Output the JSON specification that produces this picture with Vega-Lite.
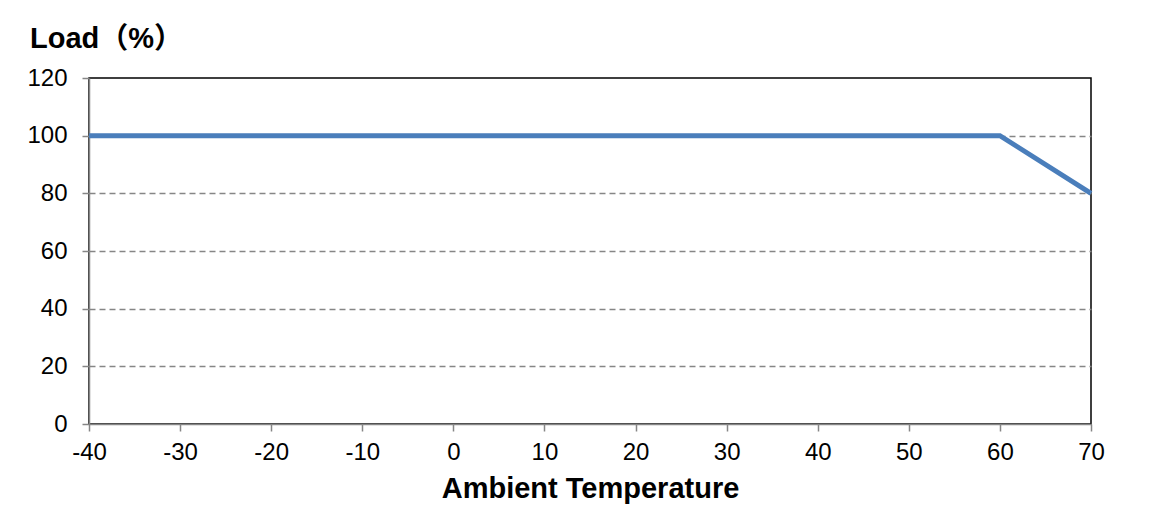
{
  "$schema": "https://vega.github.io/schema/vega-lite/v6.json",
  "width": 1002,
  "height": 346,
  "autosize": {"type": "none"},
  "padding": {"left": 89, "top": 78, "right": 70, "bottom": 99},
  "background": "white",
  "title": {
    "text": "Load（%）",
    "anchor": "start",
    "frame": "group",
    "dx": -59,
    "baseline": "alphabetic",
    "offset": -11,
    "font": "Liberation Sans, Arial, Noto Sans CJK SC",
    "fontSize": 29,
    "fontWeight": "bold",
    "color": "black"
  },
  "data": {
    "values": [
      {"temp": -40, "load": 100},
      {"temp": 60, "load": 100},
      {"temp": 70, "load": 80}
    ]
  },
  "mark": {"type": "line", "color": "#4A7EBB", "strokeWidth": 5, "strokeJoin": "miter", "clip": false},
  "encoding": {
    "x": {
      "field": "temp",
      "type": "quantitative",
      "scale": {"domain": [-40, 70], "nice": false, "zero": false},
      "axis": {
        "title": "Ambient Temperature",
        "values": [-40, -30, -20, -10, 0, 10, 20, 30, 40, 50, 60, 70],
        "labelExpr": "'' + datum.value",
        "grid": false,
        "labelPadding": 9,
        "titlePadding": 10
      }
    },
    "y": {
      "field": "load",
      "type": "quantitative",
      "scale": {"domain": [0, 120], "nice": false},
      "axis": {
        "title": null,
        "values": [0, 20, 40, 60, 80, 100, 120],
        "grid": true,
        "gridOpacity": {"condition": {"test": "datum.value == 0 || datum.value == 120", "value": 0}, "value": 1},
        "labelPadding": 15
      }
    }
  },
  "config": {
    "font": "Liberation Sans, Arial",
    "view": {"stroke": "black", "strokeWidth": 1.5},
    "axis": {
      "domainColor": "#868686",
      "domainWidth": 1.5,
      "tickColor": "#868686",
      "tickWidth": 1.5,
      "tickSize": 7,
      "labelFont": "Liberation Sans, Arial",
      "labelFontSize": 24,
      "labelColor": "black",
      "labelFlush": false,
      "labelOverlap": false,
      "titleFont": "Liberation Sans, Arial",
      "titleFontSize": 29,
      "titleFontWeight": "bold",
      "titleColor": "black",
      "gridColor": "#868686",
      "gridDash": [6, 4],
      "gridWidth": 1.3
    }
  }
}
